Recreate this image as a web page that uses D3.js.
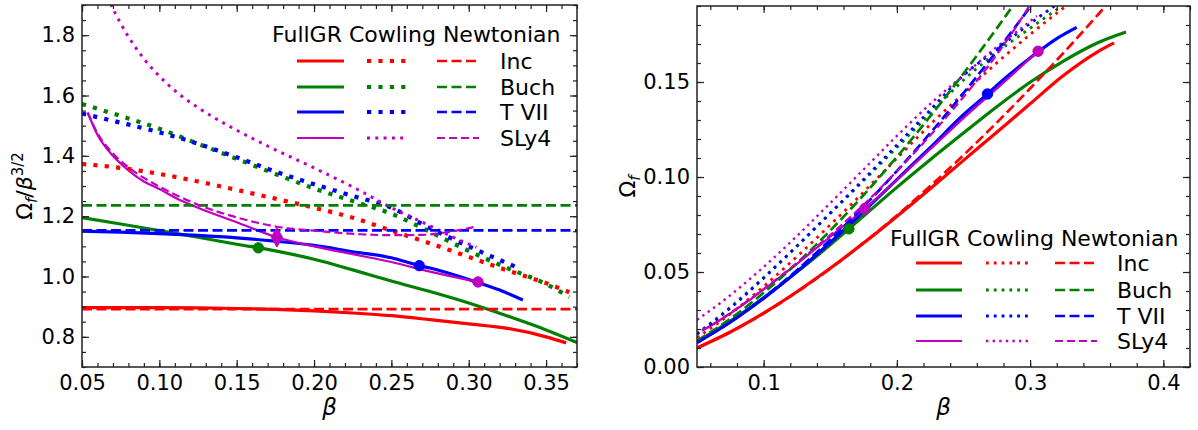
<!DOCTYPE html>
<html><head><meta charset="utf-8">
<script src="https://cdn.jsdelivr.net/npm/d3@7"></script>
<style>
body{margin:0;background:#fff;}
svg{display:block;font-family:"DejaVu Sans",sans-serif;}
</style></head><body>
<svg id="chart" width="1198" height="430"></svg>
<script>
// ---------------- DATA ----------------
// Left panel: Omega_f / beta^{3/2};  right panel: Omega_f
const gridBeta = [0.05,0.075,0.10,0.125,0.15,0.175,0.20,0.225,0.25,0.275,0.30,0.325,0.35,0.37];

// Inc
const incFullBeta  = [0.05,0.075,0.10,0.125,0.15,0.175,0.20,0.225,0.25,0.275,0.30,0.325,0.35,0.363];
const incFullRatio = [0.897,0.897,0.897,0.896,0.894,0.891,0.886,0.879,0.870,0.857,0.843,0.828,0.800,0.780];
const incFullOmega = [0.010029,0.018424,0.028366,0.039598,0.051937,0.065228,0.079246,0.093813,0.10875,0.123589,0.138519,0.153411,0.165650,0.170591];
const incCowBeta   = [0.05,0.075,0.10,0.125,0.15,0.175,0.20,0.225,0.25,0.275,0.30,0.325,0.35,0.365];
const incCowRatio  = [1.373,1.36,1.34,1.315,1.287,1.258,1.228,1.195,1.152,1.11,1.065,1.02,0.978,0.948];
const incCowOmega  = [0.015351,0.027934,0.042375,0.058115,0.074768,0.092095,0.109836,0.127539,0.144,0.160074,0.174998,0.188985,0.202508,0.209048];
const incNewtRatio = [0.892,0.892,0.892,0.892,0.892,0.892,0.892,0.892,0.892,0.892,0.892,0.892,0.892,0.892];
const incNewtOmega = [0.009973,0.018321,0.028208,0.039421,0.051821,0.065301,0.079783,0.095200,0.1115,0.128636,0.146571,0.165269,0.184700,0.200755];

// Buch
const buchFullBeta  = [0.05,0.075,0.10,0.125,0.15,0.175,0.20,0.225,0.25,0.275,0.30,0.325,0.35,0.372];
const buchFullRatio = [1.195,1.174,1.152,1.13,1.107,1.085,1.057,1.022,0.985,0.950,0.912,0.869,0.823,0.777];
const buchFullOmega = [0.013360,0.024113,0.036429,0.049939,0.064311,0.079430,0.094541,0.109075,0.123125,0.137000,0.149857,0.161007,0.170413,0.176294];
const buchCowBeta   = [0.05,0.075,0.10,0.125,0.15,0.175,0.20,0.225,0.25,0.275,0.30,0.325,0.35,0.365];
const buchCowRatio  = [1.572,1.532,1.49,1.44,1.39,1.34,1.292,1.25,1.208,1.148,1.085,1.028,0.975,0.932];
const buchCowOmega  = [0.017575,0.031467,0.047118,0.06364,0.080752,0.098098,0.115560,0.133409,0.151,0.165554,0.178284,0.190467,0.201886,0.205520];
const buchNewtRatio = [1.236,1.236,1.236,1.236,1.236,1.236,1.236,1.236,1.236,1.236,1.236,1.236,1.236,1.236];
const buchNewtOmega = [0.013819,0.025387,0.039086,0.054624,0.071805,0.090485,0.110551,0.131915,0.1545,0.178245,0.203096,0.229005,0.255930,0.278177];

// T VII
const tviiFullBeta  = [0.05,0.075,0.10,0.125,0.15,0.175,0.20,0.225,0.25,0.268,0.275,0.30,0.32,0.335];
const tviiFullRatio = [1.150,1.147,1.142,1.136,1.128,1.117,1.103,1.082,1.062,1.036,1.028,0.99,0.955,0.922];
const tviiFullOmega = [0.012857,0.023559,0.036113,0.050205,0.065531,0.081773,0.098655,0.115479,0.13275,0.143735,0.148249,0.162674,0.172873,0.178771];
const tviiCowBeta   = [0.05,0.075,0.10,0.125,0.15,0.175,0.20,0.225,0.25,0.275,0.30,0.33];
const tviiCowRatio  = [1.54,1.51,1.478,1.44,1.395,1.348,1.306,1.267,1.228,1.16,1.10,1.033];
const tviiCowOmega  = [0.017218,0.031015,0.046739,0.06364,0.081042,0.098684,0.116812,0.135223,0.1535,0.167285,0.180749,0.195827];
const tviiNewtRatio = [1.153,1.153,1.153,1.153,1.153,1.153,1.153,1.153,1.153,1.153,1.153,1.153,1.153,1.153];
const tviiNewtOmega = [0.012891,0.023682,0.036461,0.050956,0.066983,0.084409,0.103127,0.123056,0.144125,0.166275,0.189457,0.213627,0.238744,0.259496];

// SLy4
const slyFullBeta  = [0.0537,0.06,0.07,0.08,0.09,0.10,0.11,0.125,0.15,0.176,0.20,0.225,0.25,0.275,0.306];
const slyFullRatio = [1.543,1.47,1.40,1.352,1.315,1.29,1.262,1.228,1.18,1.13,1.10,1.074,1.048,1.016,0.982];
const slyFullOmega = [0.019201,0.021604,0.025928,0.030592,0.035505,0.040793,0.046041,0.054270,0.068552,0.083435,0.098387,0.114625,0.131,0.146518,0.166224];
const slyCowBeta   = [0.05,0.06,0.068,0.075,0.08,0.09,0.10,0.112,0.125,0.15,0.175,0.20,0.2276,0.25,0.275,0.29,0.305];
const slyCowRatio  = [2.22,2.03,1.911,1.839,1.795,1.722,1.664,1.608,1.56,1.485,1.42,1.36,1.29,1.228,1.168,1.13,1.097];
const slyCowOmega  = [0.024820,0.029835,0.033886,0.037772,0.040616,0.046494,0.052620,0.060271,0.068943,0.086271,0.103955,0.121642,0.140071,0.1535,0.168438,0.176472,0.184781];
const slyNewtBeta  = [0.0537,0.06,0.07,0.08,0.09,0.10,0.11,0.125,0.15,0.176,0.20,0.23,0.25,0.27,0.29,0.305];
const slyNewtRatio = [1.543,1.475,1.408,1.362,1.327,1.298,1.272,1.238,1.196,1.165,1.152,1.14,1.137,1.138,1.15,1.166];
const slyNewtOmega = [0.019201,0.021678,0.026077,0.030819,0.035829,0.041046,0.046406,0.054712,0.069481,0.086019,0.103038,0.125747,0.142125,0.159657,0.179596,0.196403];

// Highlighted models (markers)
const markerEos   = ["Buch","T VII","SLy4","SLy4"];
const markerBeta  = [0.164,0.268,0.176,0.306];
const markerRatio = [1.095,1.036,1.13,0.982];
const markerOmega = [0.0727,0.1437,0.0834,0.1662];

// Legend / axes text
const eosNames = ["Inc","Buch","T VII","SLy4"];
const legendTitle = "FullGR Cowling Newtonian";
const leftXTicks = [0.05,0.10,0.15,0.20,0.25,0.30,0.35];
const leftXTickLabels = ["0.05","0.10","0.15","0.20","0.25","0.30","0.35"];
const leftYTicks = [0.8,1.0,1.2,1.4,1.6,1.8];
const leftYTickLabels = ["0.8","1.0","1.2","1.4","1.6","1.8"];
const rightXTicks = [0.1,0.2,0.3,0.4];
const rightXTickLabels = ["0.1","0.2","0.3","0.4"];
const rightYTicks = [0.00,0.05,0.10,0.15];
const rightYTickLabels = ["0.00","0.05","0.10","0.15"];

// ---------------- STYLE ----------------
const colors = {"Inc":"#ff0000","Buch":"#008000","T VII":"#0000ff","SLy4":"#bf00bf"};
const series = [
  {eos:"Inc",  kind:"full", beta:incFullBeta,  L:incFullRatio,  R:incFullOmega},
  {eos:"Buch", kind:"full", beta:buchFullBeta, L:buchFullRatio, R:buchFullOmega},
  {eos:"T VII",kind:"full", beta:tviiFullBeta, L:tviiFullRatio, R:tviiFullOmega},
  {eos:"SLy4", kind:"full", beta:slyFullBeta,  L:slyFullRatio,  R:slyFullOmega},
  {eos:"Inc",  kind:"cow",  beta:incCowBeta,   L:incCowRatio,   R:incCowOmega},
  {eos:"Buch", kind:"cow",  beta:buchCowBeta,  L:buchCowRatio,  R:buchCowOmega},
  {eos:"T VII",kind:"cow",  beta:tviiCowBeta,  L:tviiCowRatio,  R:tviiCowOmega},
  {eos:"SLy4", kind:"cow",  beta:slyCowBeta,   L:slyCowRatio,   R:slyCowOmega},
  {eos:"Inc",  kind:"newt", beta:gridBeta,     L:incNewtRatio,  R:incNewtOmega},
  {eos:"Buch", kind:"newt", beta:gridBeta,     L:buchNewtRatio, R:buchNewtOmega},
  {eos:"T VII",kind:"newt", beta:gridBeta,     L:tviiNewtRatio, R:tviiNewtOmega},
  {eos:"SLy4", kind:"newt", beta:slyNewtBeta,  L:slyNewtRatio,  R:slyNewtOmega}
];
function lineStyle(eos, kind, panel){
  const thin = eos==="SLy4";
  if(kind==="full") return {w: thin?2.2:3.2, dash:null};
  if(kind==="cow"){
    if(panel==="L") return thin?{w:3,dash:"3,5.3"}:{w:4.2,dash:"4.2,7.2"};
    return thin?{w:2.4,dash:"2.4,4.2"}:{w:2.8,dash:"2.8,5"};
  }
  return thin?{w:2.2,dash:"8,4"}:{w:2.7,dash:"10,4.5"};
}

const svg = d3.select("#chart");
const panels = [
  {key:"L", x0:82, y0:5, w:495, h:362, xd:[0.05,0.37], yd:[0.7,1.9],
   xt:leftXTicks, xl:leftXTickLabels, yt:leftYTicks, yl:leftYTickLabels,
   xminor:d3.range(5,38).map(d=>d/100), yminor:d3.range(14,39).map(d=>d*0.05),
   legend:{tx:190, ty:37, rows:[56,82,107,133], cols:[[215,262],[285,326],[355,397]], lx:418}},
  {key:"R", x0:697, y0:6, w:493, h:361, xd:[0.05,0.42], yd:[0,0.19],
   xt:rightXTicks, xl:rightXTickLabels, yt:rightYTicks, yl:rightYTickLabels,
   xminor:d3.range(3,22).map(d=>d*0.02), yminor:d3.range(0,20).map(d=>d*0.01),
   legend:{tx:193, ty:240, rows:[257,284,310,335], cols:[[219,265],[289,331],[358,400]], lx:420}}
];

panels.forEach((p,pi)=>{
  const g = svg.append("g").attr("transform",`translate(${p.x0},${p.y0})`);
  const x = d3.scaleLinear().domain(p.xd).range([0,p.w]);
  const y = d3.scaleLinear().domain(p.yd).range([p.h,0]);
  const clipId = "clip"+p.key;
  g.append("clipPath").attr("id",clipId).append("rect").attr("width",p.w).attr("height",p.h);
  const plot = g.append("g").attr("clip-path",`url(#${clipId})`);
  const vals = p.key==="L" ? (s=>s.L) : (s=>s.R);
  series.forEach(s=>{
    const st = lineStyle(s.eos,s.kind,p.key);
    const pts = s.beta.map((b,i)=>[b, vals(s)[i]]);
    const line = d3.line().x(d=>x(d[0])).y(d=>y(d[1])).curve(d3.curveMonotoneX);
    plot.append("path").attr("d",line(pts)).attr("fill","none")
      .attr("stroke",colors[s.eos]).attr("stroke-width",st.w)
      .attr("stroke-dasharray",st.dash).attr("stroke-linejoin","round");
  });
  // markers
  markerBeta.forEach((b,i)=>{
    const v = p.key==="L" ? markerRatio[i] : markerOmega[i];
    const c = colors[markerEos[i]];
    const diamond = p.key==="L" && markerEos[i]==="SLy4" && i===2;
    const sym = d3.symbol().type(diamond?d3.symbolDiamond:d3.symbolCircle).size(diamond?110:85);
    plot.append("path").attr("d",sym()).attr("transform",`translate(${x(b)},${y(v)})`)
      .attr("fill",c).attr("stroke",c).attr("stroke-width",1);
  });

  // axes
  const fmt = (labels,ticks)=>(d=>{const i=ticks.findIndex(t=>Math.abs(t-d)<1e-9);return i>=0?labels[i]:"";});
  const ax = (gen,tv,size,labels)=>gen.tickValues(tv).tickSize(size).tickSizeOuter(0).tickPadding(8)
      .tickFormat(labels?fmt(labels,tv):"");
  const style = sel=>{sel.select(".domain").remove();
    sel.selectAll("line").attr("stroke","#222").attr("stroke-width",1.2);
    sel.selectAll("text").attr("font-size",21).attr("font-family","DejaVu Sans").attr("fill","#000");};
  g.append("g").attr("transform",`translate(0,${p.h})`).call(ax(d3.axisBottom(x),p.xminor,-4)).call(style);
  g.append("g").attr("transform",`translate(0,${p.h})`).call(ax(d3.axisBottom(x),p.xt,-7,p.xl)).call(style);
  g.append("g").call(ax(d3.axisTop(x),p.xminor,-4)).call(style);
  g.append("g").call(ax(d3.axisTop(x),p.xt,-7)).call(style);
  g.append("g").call(ax(d3.axisLeft(y),p.yminor,-4)).call(style);
  g.append("g").call(ax(d3.axisLeft(y),p.yt,-7,p.yl).tickPadding(7)).call(style);
  g.append("g").attr("transform",`translate(${p.w},0)`).call(ax(d3.axisRight(y),p.yminor,-4)).call(style);
  g.append("g").attr("transform",`translate(${p.w},0)`).call(ax(d3.axisRight(y),p.yt,-7)).call(style);
  g.append("rect").attr("width",p.w).attr("height",p.h).attr("fill","none")
    .attr("stroke","#222").attr("stroke-width",1.5);

  // axis titles
  g.append("text").attr("x",p.w/2).attr("y",p.h+48).attr("text-anchor","middle")
    .attr("font-size",23).attr("font-style","italic").text("β");
  if(p.key==="L"){
    const t = g.append("text").attr("transform",`translate(${32-p.x0},${p.h/2}) rotate(-90)`)
      .attr("text-anchor","middle").attr("font-size",22);
    t.append("tspan").text("Ω");
    t.append("tspan").attr("font-size",15).attr("font-style","italic").attr("dy",5).text("f");
    t.append("tspan").attr("dy",-5).text("/");
    t.append("tspan").attr("font-style","italic").text("β");
    t.append("tspan").attr("font-size",15).attr("dy",-9).text("3/2");
  } else {
    const t = g.append("text").attr("transform",`translate(${627-p.x0+8},${p.h/2}) rotate(-90)`)
      .attr("text-anchor","middle").attr("font-size",22);
    t.append("tspan").text("Ω");
    t.append("tspan").attr("font-size",15).attr("font-style","italic").attr("dy",5).text("f");
  }

  // legend
  const L = p.legend;
  const lg = g.append("g");
  lg.append("text").attr("x",L.tx).attr("y",L.ty).attr("font-size",22).text(legendTitle);
  eosNames.forEach((e,r)=>{
    ["full","cow","newt"].forEach((k,ci)=>{
      const st = lineStyle(e,k,p.key);
      lg.append("line").attr("x1",L.cols[ci][0]).attr("x2",L.cols[ci][1])
        .attr("y1",L.rows[r]).attr("y2",L.rows[r]).attr("stroke",colors[e])
        .attr("stroke-width",st.w).attr("stroke-dasharray",st.dash);
    });
    lg.append("text").attr("x",L.lx).attr("y",L.rows[r]).attr("dy","0.36em")
      .attr("font-size",22).text(e);
  });
});
</script>
</body></html>
